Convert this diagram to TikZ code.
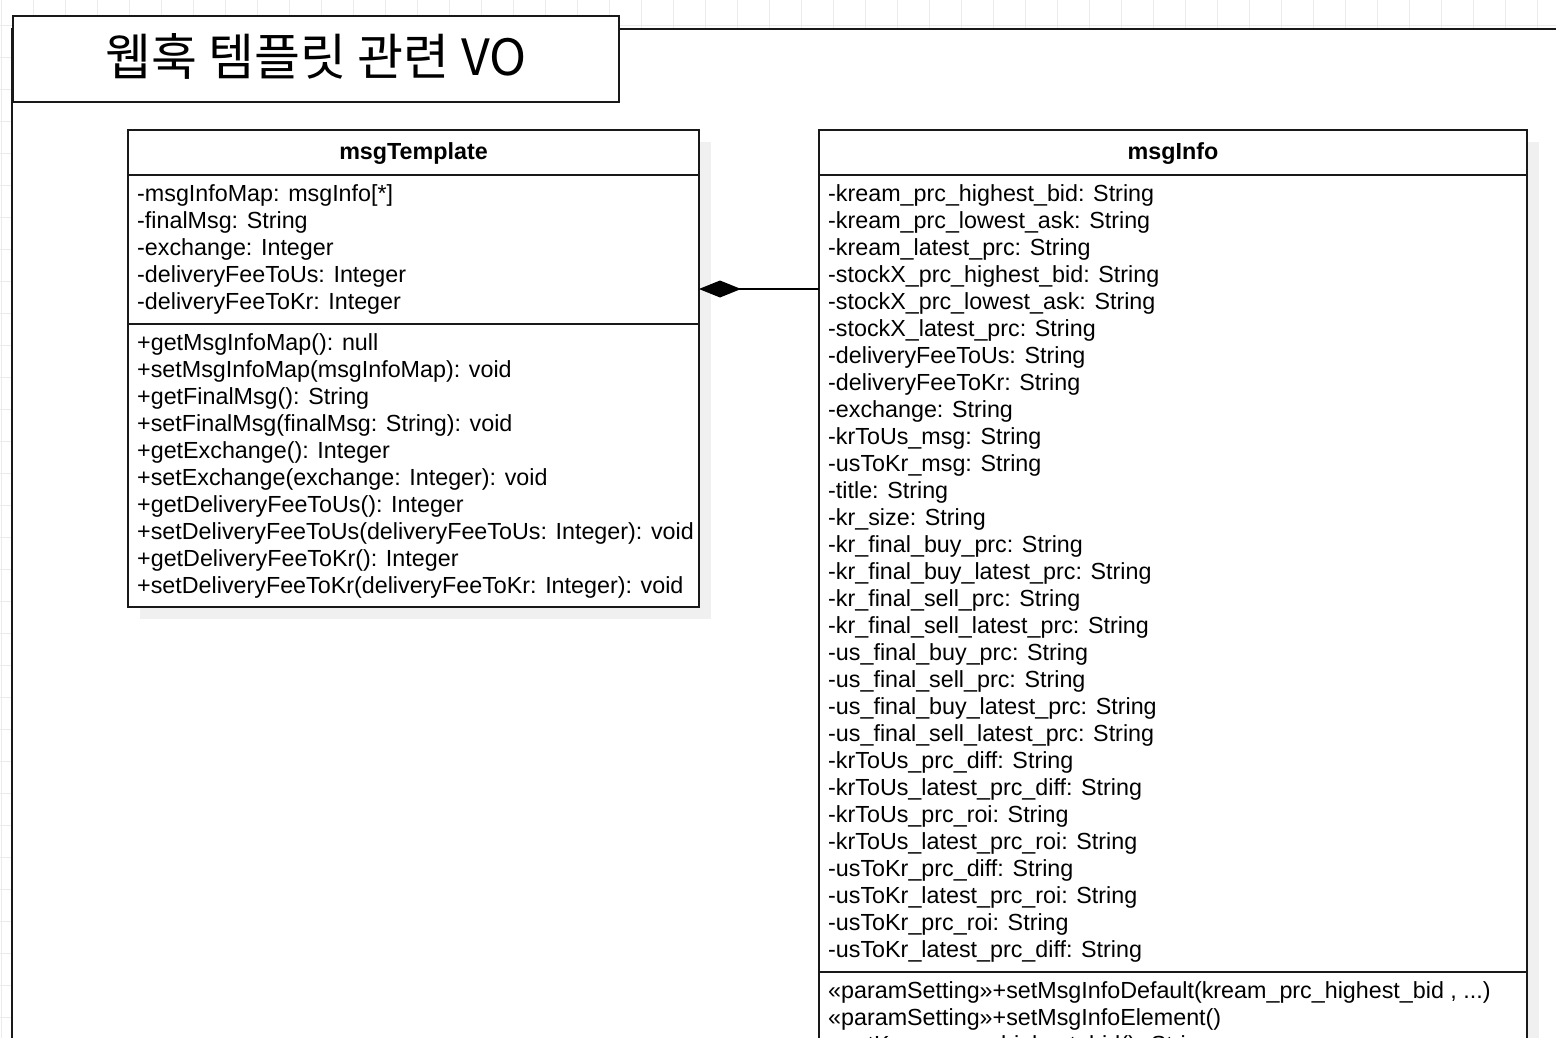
\documentclass[tikz,border=0pt]{standalone}
\usepackage{fontspec}
\setmainfont{Liberation Sans}
\newfontfamily\krfont{Noto Sans CJK KR}
\usetikzlibrary{shadows, arrows.meta}
\newcommand{\moreargs}{...}
\newcommand{\umlfont}{\fontsize{23.3}{27}\selectfont}

\tikzset{
  gridline/.style={black!8, line width=0.8pt},
  umlbox/.style={draw=black!90, line width=2pt, fill=white, inner sep=0pt, outer sep=0pt,
    drop shadow={shadow xshift=12pt, shadow yshift=-12pt, opacity=1, fill=black!6}},
  divider/.style={black!90, line width=2pt},
  member/.style={anchor=base west, inner sep=0pt},
  classname/.style={anchor=base, inner sep=0pt, font=\umlfont\bfseries},
  composite/.style={line width=1.5pt, -{Diamond[length=42pt, width=17pt]}}
}

\begin{document}
\begin{tikzpicture}[x=1pt, y=-1pt, font=\umlfont]
        \useasboundingbox (0,0) rectangle (1556,1038);
        \clip (0,0) rectangle (1556,1038);
        \fill[white] (0,0) rectangle (1556,1038);

        % Grid
        \foreach \gx in {1,33,...,1569}
            \draw[gridline] (\gx,0) -- (\gx,1038);
        \foreach \gy in {25,57,...,1049}
            \draw[gridline] (0,\gy) -- (1556,\gy);

        % Package frame
        \draw[line width=2pt, black!90, fill=white] (12,29) rectangle (1620,1120);
        \node[draw=black!90, line width=2pt, fill=white, inner sep=0pt, anchor=north west,
            minimum width=606pt, minimum height=86pt] (titletab) at (12,15) {};
        \node[font=\krfont\fontsize{50}{58}\selectfont, inner sep=0pt]
            (title) at ([yshift=3pt]titletab.center) {웹훅 템플릿 관련 VO};

        % msgTemplate class
        \node[umlbox, anchor=north west, minimum width=571pt, minimum height=477pt] (tmpl) at (128,130) {};
        \node[classname] (tmplname) at (413.5,160) {msgTemplate};
        \draw[divider] ([yshift=-45pt]tmpl.north west) -- ([yshift=-45pt]tmpl.north east);
        \draw[divider] ([yshift=-194pt]tmpl.north west) -- ([yshift=-194pt]tmpl.north east);
        \foreach \m [count=\i] in {-msgInfoMap: msgInfo[*], -finalMsg: String, -exchange: Integer,
            -deliveryFeeToUs: Integer, -deliveryFeeToKr: Integer}
            \node[member] (tattr\i) at (137,{174+27*\i}) {\m};
        \foreach \m [count=\i] in {+getMsgInfoMap(): null, +setMsgInfoMap(msgInfoMap): void,
            +getFinalMsg(): String, +setFinalMsg(finalMsg: String): void,
            +getExchange(): Integer, +setExchange(exchange: Integer): void,
            +getDeliveryFeeToUs(): Integer, +setDeliveryFeeToUs(deliveryFeeToUs: Integer): void,
            +getDeliveryFeeToKr(): Integer, +setDeliveryFeeToKr(deliveryFeeToKr: Integer): void}
            \node[member] (tmeth\i) at (137,{323+27*\i}) {\m};

        % msgInfo class
        \node[umlbox, anchor=north west, minimum width=708pt, minimum height=990pt] (info) at (819,130) {};
        \node[classname] (infoname) at (1173,160) {msgInfo};
        \draw[divider] ([yshift=-45pt]info.north west) -- ([yshift=-45pt]info.north east);
        \draw[divider] ([yshift=-842pt]info.north west) -- ([yshift=-842pt]info.north east);
        \foreach \m [count=\i] in {-kream\_prc\_highest\_bid: String, -kream\_prc\_lowest\_ask: String,
            -kream\_latest\_prc: String, -stockX\_prc\_highest\_bid: String,
            -stockX\_prc\_lowest\_ask: String, -stockX\_latest\_prc: String,
            -deliveryFeeToUs: String, -deliveryFeeToKr: String, -exchange: String,
            -krToUs\_msg: String, -usToKr\_msg: String, -title: String, -kr\_size: String,
            -kr\_final\_buy\_prc: String, -kr\_final\_buy\_latest\_prc: String,
            -kr\_final\_sell\_prc: String, -kr\_final\_sell\_latest\_prc: String,
            -us\_final\_buy\_prc: String, -us\_final\_sell\_prc: String,
            -us\_final\_buy\_latest\_prc: String, -us\_final\_sell\_latest\_prc: String,
            -krToUs\_prc\_diff: String, -krToUs\_latest\_prc\_diff: String,
            -krToUs\_prc\_roi: String, -krToUs\_latest\_prc\_roi: String,
            -usToKr\_prc\_diff: String, -usToKr\_latest\_prc\_roi: String,
            -usToKr\_prc\_roi: String, -usToKr\_latest\_prc\_diff: String}
            \node[member] (iattr\i) at (828,{174+27*\i}) {\m};
        \foreach \m [count=\i] in {{«paramSetting»+setMsgInfoDefault(kream\_prc\_highest\_bid , \moreargs)},
            {«paramSetting»+setMsgInfoElement()}, {+getKream\_prc\_highest\_bid(): String}}
            \node[member] (imeth\i) at (828,{971+27*\i}) {\m};

        % Composition
        \coordinate (infoport) at (819,289);
        \draw[composite] (infoport) -- (infoport -| tmpl.east);
    \end{tikzpicture}
\end{document}
